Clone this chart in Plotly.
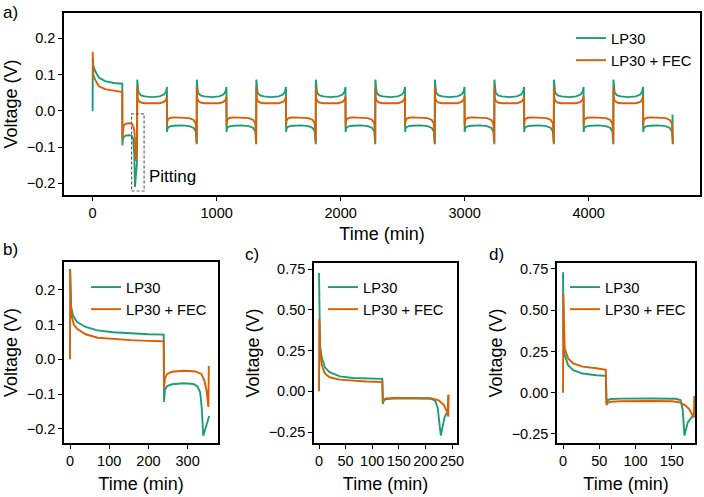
import plotly.graph_objects as go

TEAL = "#1B9E77"
ORANGE = "#D95F02"
FONT = "Liberation Sans, Arial, sans-serif"
W, H = 704, 497

series_names = ["LP30", "LP30 + FEC"]

# ---------------- Panel a: long-term cycling ----------------
a_lp30_first_t = [0, 1, 5, 20, 50, 100, 170, 239, 240, 243, 250, 270, 300, 318, 328, 336, 341, 350, 357]
a_lp30_first_v = [0.0, 0.145, 0.125, 0.110, 0.092, 0.082, 0.077, 0.075, -0.095, -0.080, -0.072, -0.068, -0.067, -0.070, -0.080, -0.120, -0.210, -0.170, -0.145]
a_fec_first_t = [0, 5, 20, 50, 100, 170, 239, 240, 243, 250, 270, 300, 318, 330, 338, 344, 350, 358]
a_fec_first_v = [0.163, 0.100, 0.086, 0.068, 0.060, 0.055, 0.052, -0.078, -0.050, -0.040, -0.035, -0.034, -0.036, -0.045, -0.060, -0.090, -0.138, -0.100]

# steady half-cycle profiles (minutes from start of each 240-min step)
a_half_rel_t = [0, 3, 10, 30, 60, 120, 180, 215, 232, 239]
a_lp30_pos_v = [0.086, 0.060, 0.050, 0.043, 0.040, 0.038, 0.040, 0.045, 0.053, 0.066]
a_fec_pos_v = [0.066, 0.036, 0.028, 0.023, 0.021, 0.020, 0.021, 0.025, 0.031, 0.040]
a_lp30_neg_v = [-0.058, -0.050, -0.045, -0.042, -0.041, -0.040, -0.042, -0.047, -0.057, -0.092]
a_fec_neg_v = [-0.040, -0.028, -0.022, -0.019, -0.018, -0.018, -0.020, -0.025, -0.035, -0.088]
a_half_starts = [360, 600, 840, 1080, 1320, 1560, 1800, 2040, 2280, 2520,
                 2760, 3000, 3240, 3480, 3720, 3960, 4200, 4440]
a_half_kind = ["pos", "neg", "pos", "neg", "pos", "neg", "pos", "neg", "pos", "neg",
               "pos", "neg", "pos", "neg", "pos", "neg", "pos", "neg"]
a_lp30_end_t = [4676]
a_lp30_end_v = [-0.010]

# ---------------- Panel b ----------------
b_lp30_t = [0, 1, 3, 8, 18, 40, 70, 110, 155, 200, 239, 240, 242, 248, 260, 290, 315, 325, 332, 336, 340, 355]
b_lp30_v = [0.26, 0.20, 0.15, 0.125, 0.107, 0.093, 0.083, 0.078, 0.074, 0.072, 0.071, -0.123, -0.088, -0.077, -0.072, -0.069, -0.071, -0.078, -0.095, -0.140, -0.220, -0.163]
b_fec_t = [0, 0.5, 2, 5, 10, 18, 40, 70, 110, 155, 200, 239, 240, 242, 248, 260, 290, 320, 335, 343, 349, 353, 354]
b_fec_v = [0.0, 0.26, 0.16, 0.120, 0.100, 0.088, 0.072, 0.062, 0.058, 0.055, 0.053, 0.052, -0.085, -0.055, -0.042, -0.036, -0.033, -0.035, -0.042, -0.062, -0.095, -0.137, -0.019]

# ---------------- Panel c ----------------
c_lp30_t = [0, 0.5, 2, 5, 11, 20, 39, 64, 89, 119, 120, 122, 126, 140, 180, 210, 218, 223, 229, 236, 242, 243]
c_lp30_v = [0.725, 0.45, 0.28, 0.21, 0.147, 0.117, 0.092, 0.082, 0.078, 0.076, -0.078, -0.055, -0.048, -0.045, -0.044, -0.046, -0.055, -0.100, -0.272, -0.160, -0.120, -0.025]
c_fec_t = [0, 0.5, 2, 5, 11, 20, 39, 64, 89, 119, 120, 122, 126, 140, 180, 210, 225, 235, 241, 243, 243.5]
c_fec_v = [0.0, 0.444, 0.25, 0.162, 0.110, 0.086, 0.072, 0.064, 0.060, 0.057, -0.068, -0.050, -0.044, -0.041, -0.040, -0.042, -0.055, -0.085, -0.130, -0.155, -0.020]

# ---------------- Panel d ----------------
d_lp30_t = [0, 0.5, 2.3, 7, 14, 27, 46, 59, 60, 62, 66, 80, 120, 155, 162, 165, 167.5, 172, 178, 181]
d_lp30_v = [0.73, 0.35, 0.227, 0.167, 0.136, 0.116, 0.106, 0.102, -0.065, -0.045, -0.038, -0.036, -0.035, -0.037, -0.045, -0.100, -0.260, -0.180, -0.145, -0.130]
d_fec_t = [0, 0.5, 2.3, 7, 14, 27, 46, 59, 60, 62, 66, 80, 120, 150, 160, 168, 174, 178, 180.5, 181]
d_fec_v = [0.0, 0.60, 0.268, 0.208, 0.178, 0.158, 0.148, 0.138, -0.075, -0.060, -0.055, -0.052, -0.050, -0.052, -0.058, -0.075, -0.100, -0.130, -0.150, -0.020]

# assemble panel a from the read segments
a_lp30_t = list(a_lp30_first_t)
a_lp30_v = list(a_lp30_first_v)
a_fec_t = list(a_fec_first_t)
a_fec_v = list(a_fec_first_v)
for start, kind in zip(a_half_starts, a_half_kind):
    lp = a_lp30_pos_v if kind == "pos" else a_lp30_neg_v
    fe = a_fec_pos_v if kind == "pos" else a_fec_neg_v
    for rt, v1, v2 in zip(a_half_rel_t, lp, fe):
        a_lp30_t.append(start + rt)
        a_lp30_v.append(v1)
        a_fec_t.append(start + rt)
        a_fec_v.append(v2)
a_lp30_t += a_lp30_end_t
a_lp30_v += a_lp30_end_v

panels = [
    dict(key="a", xa="x", ya="y", leg="legend", data=[(a_lp30_t, a_lp30_v), (a_fec_t, a_fec_v)]),
    dict(key="b", xa="x2", ya="y2", leg="legend2", data=[(b_lp30_t, b_lp30_v), (b_fec_t, b_fec_v)]),
    dict(key="c", xa="x3", ya="y3", leg="legend3", data=[(c_lp30_t, c_lp30_v), (c_fec_t, c_fec_v)]),
    dict(key="d", xa="x4", ya="y4", leg="legend4", data=[(d_lp30_t, d_lp30_v), (d_fec_t, d_fec_v)]),
]

fig = go.Figure()
for p in panels:
    for (t, v), name, col in zip(p["data"], series_names, [TEAL, ORANGE]):
        fig.add_trace(go.Scatter(
            x=t, y=v, mode="lines", name=name,
            line=dict(color=col, width=1.9),
            xaxis=p["xa"], yaxis=p["ya"], legend=p["leg"], showlegend=True,
        ))

def px_x(px):
    return px / W

def px_y(py):
    return 1 - py / H

tickfont = dict(family=FONT, size=14.5, color="black")
titlefont = dict(family=FONT, size=18, color="black")

axis_common = dict(
    showline=True, linecolor="black", linewidth=1.5, mirror=True,
    ticks="outside", ticklen=4, tickwidth=1.2, tickcolor="black",
    showgrid=False, zeroline=False, tickfont=tickfont, automargin=False,
)

# domains in pixel space
dom = {
    "a": ((64, 700), (13, 195)),
    "b": ((64, 218), (262, 443)),
    "c": ((314, 457), (263, 443)),
    "d": ((557, 695), (263, 443)),
}
xranges = {"a": [-231, 4898], "b": [-15.3, 377.5], "c": [-9.4, 259.4], "d": [-8.3, 182]}
yranges = {"a": [-0.232, 0.270], "b": [-0.241, 0.280], "c": [-0.317, 0.787], "d": [-0.305, 0.786]}
xticks = {"a": [0, 1000, 2000, 3000, 4000], "b": [0, 100, 200, 300],
          "c": [0, 50, 100, 150, 200, 250], "d": [0, 50, 100, 150]}
yticks = {"a": [-0.2, -0.1, 0.0, 0.1, 0.2], "b": [-0.2, -0.1, 0.0, 0.1, 0.2],
          "c": [-0.25, 0.0, 0.25, 0.5, 0.75], "d": [-0.25, 0.0, 0.25, 0.5, 0.75]}
yfmt = {"a": ".1f", "b": ".1f", "c": ".2f", "d": ".2f"}
xstandoff = {"a": 7, "b": 9, "c": 9, "d": 9}

layout = dict(
    template="none",
    width=W, height=H, margin=dict(l=0, r=0, t=0, b=0, autoexpand=False),
    paper_bgcolor="white", plot_bgcolor="white",
    font=dict(family=FONT, color="black"),
)
for i, p in enumerate(panels):
    k = p["key"]
    suffix = "" if i == 0 else str(i + 1)
    (x0, x1), (y0, y1) = dom[k]
    layout["xaxis" + suffix] = dict(
        axis_common, domain=[px_x(x0), px_x(x1)], range=xranges[k],
        tickvals=xticks[k], anchor="y" + suffix,
        title=dict(text="Time (min)", font=titlefont, standoff=xstandoff[k]),
    )
    layout["yaxis" + suffix] = dict(
        axis_common, domain=[px_y(y1), px_y(y0)], range=yranges[k],
        tickvals=yticks[k], tickformat=yfmt[k], anchor="x" + suffix,
        title=dict(text="Voltage (V)", font=titlefont, standoff=4),
    )

legfont = dict(family=FONT, size=14.7, color="black")
leg_pos = {"legend": (571, 22), "legend2": (86, 271), "legend3": (323, 271), "legend4": (565, 271)}
for lk, (lx, ly) in leg_pos.items():
    layout[lk] = dict(
        x=px_x(lx), y=px_y(ly), xanchor="left", yanchor="top",
        bgcolor="rgba(0,0,0,0)", borderwidth=0, font=legfont,
        itemwidth=30, tracegroupgap=0,
    )

fig.update_layout(**layout)

# Pitting marker on panel a
fig.add_shape(type="rect", xref="x", yref="y", x0=314, x1=415, y0=-0.221, y1=-0.008,
              line=dict(color="#606060", width=1.2, dash="3px,2px"), fillcolor="rgba(0,0,0,0)")
fig.add_annotation(x=438, y=-0.182, xref="x", yref="y", text="Pitting", showarrow=False,
                   xanchor="left", yanchor="middle", font=dict(family=FONT, size=17, color="black"))

# panel letters
for lab, (lx, ly) in {"a)": (1, 13), "b)": (1, 250), "c)": (243, 254), "d)": (487, 254)}.items():
    fig.add_annotation(x=px_x(lx), y=px_y(ly), xref="paper", yref="paper", text=lab,
                       showarrow=False, xanchor="left", yanchor="middle",
                       font=dict(family=FONT, size=17, color="black"))

fig.write_html(
    "out.html",
    config={"displayModeBar": False},
    post_script="document.body.style.margin='0';document.body.style.overflow='hidden';",
)
